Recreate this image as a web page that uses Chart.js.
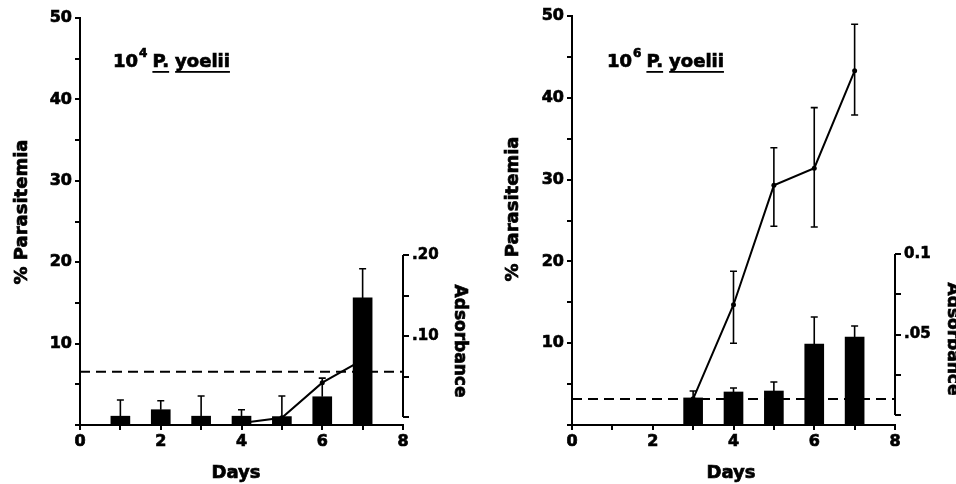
<!DOCTYPE html>
<html>
<head>
<meta charset="utf-8">
<script src="https://cdn.jsdelivr.net/npm/chart.js@4.4.0/dist/chart.umd.min.js"></script>
<style>
  html, body { margin: 0; padding: 0; background: #fff; }
  #wrap { position: relative; width: 956px; height: 484px; overflow: hidden; }
  .panel { position: absolute; top: 0; width: 478px; height: 484px; }
</style>
</head>
<body>
<div id="wrap">
  <div class="panel" style="left:0"><canvas id="lowDoseChart" width="478" height="484"></canvas></div>
  <div class="panel" style="left:478px"><canvas id="highDoseChart" width="478" height="484"></canvas></div>
</div>
<script>
'use strict';

// Days after infection
const days = [1, 2, 3, 4, 5, 6, 7];

// 10^4 P. yoelii
const lowParasitemia = [null, null, null, 0.25, 0.9, 5.2, 8.0];
const lowAbsorbance = [0.001, 0.009, 0.001, 0.001, 0.0005, 0.025, 0.147];
const lowAbsorbanceErr = [0.021, 0.020, 0.026, 0.009, 0.026, 0.048, 0.183];
const lowCutoff = 0.056;

// 10^6 P. yoelii
const highParasitemia = [null, null, 3.2, 14.7, 29.3, 31.4, 43.3];
const highParasitemiaLow = [null, null, null, 10.0, 24.3, 24.2, 37.9];
const highParasitemiaHigh = [null, null, null, 18.8, 33.9, 38.8, 49.0];
const highAbsorbance = [null, null, 0.0106, 0.0143, 0.0149, 0.0441, 0.0484];
const highAbsorbanceErr = [null, null, 0.0149, 0.0168, 0.0205, 0.0609, 0.0553];
const highCutoff = 0.010;

// Tick labels
const dayLabels = [0, 2, 4, 6, 8];
const parasitemiaLabels = [10, 20, 30, 40, 50];
const lowAbsTicks = [0, 0.05, 0.10, 0.15, 0.20];
const lowAbsLabels = ['', '', '.10', '', '.20'];
const highAbsTicks = [0, 0.025, 0.05, 0.075, 0.1];
const highAbsLabels = ['', '', '.05', '', '0.1'];

const FONT = '"DejaVu Sans", sans-serif';
const INK = '#000';

function points(values) {
  return days.map((d, i) => ({ x: d, y: values[i] })).filter(p => p.y !== null);
}

// heavy text: fill plus a thin stroke, closer to the printed figure
function heavyText(ctx, text, x, y) {
  ctx.fillText(text, x, y);
  ctx.strokeText(text, x, y);
}

// Error bars, the partial absorbance axis and the text labels
const decorPlugin = {
  id: 'decor',
  afterDatasetsDraw(chart, args, opts) {
    const ctx = chart.ctx;
    const xs = chart.scales.x;
    const ys = chart.scales.y;
    const as = chart.scales.abs;
    const cap = 3.5;
    ctx.save();
    ctx.strokeStyle = INK;
    ctx.fillStyle = INK;
    ctx.lineWidth = 1.6;

    // bar error bars (upward only)
    days.forEach((d, i) => {
      if (opts.absorbance[i] === null) return;
      const px = xs.getPixelForValue(d);
      const y0 = as.getPixelForValue(opts.absorbance[i]);
      const y1 = as.getPixelForValue(opts.absorbanceErr[i]);
      ctx.beginPath();
      ctx.moveTo(px, y0); ctx.lineTo(px, y1);
      ctx.moveTo(px - cap, y1); ctx.lineTo(px + cap, y1);
      ctx.stroke();
    });

    // parasitemia error bars
    if (opts.parasitemiaLow) {
      days.forEach((d, i) => {
        if (opts.parasitemiaLow[i] === null) return;
        const px = xs.getPixelForValue(d);
        const y0 = ys.getPixelForValue(opts.parasitemiaLow[i]);
        const y1 = ys.getPixelForValue(opts.parasitemiaHigh[i]);
        ctx.beginPath();
        ctx.moveTo(px, y0); ctx.lineTo(px, y1);
        ctx.moveTo(px - cap, y0); ctx.lineTo(px + cap, y0);
        ctx.moveTo(px - cap, y1); ctx.lineTo(px + cap, y1);
        ctx.stroke();
      });
    }

    // absorbance axis line, only over its labelled range
    const ax = chart.chartArea.right;
    ctx.lineWidth = 2;
    ctx.beginPath();
    ctx.moveTo(ax, as.getPixelForValue(opts.absTicks[0]));
    ctx.lineTo(ax, as.getPixelForValue(opts.absTicks[opts.absTicks.length - 1]));
    ctx.stroke();

    // axis titles
    ctx.lineWidth = 0.7;
    ctx.textAlign = 'center';
    ctx.textBaseline = 'middle';
    ctx.font = 'bold 18px ' + FONT;
    heavyText(ctx, 'Days', opts.daysPos[0], opts.daysPos[1]);

    ctx.save();
    ctx.translate(opts.yTitlePos[0], opts.yTitlePos[1]);
    ctx.rotate(-Math.PI / 2);
    heavyText(ctx, '% Parasitemia', 0, 0);
    ctx.restore();

    ctx.save();
    ctx.translate(opts.absTitlePos[0], opts.absTitlePos[1]);
    ctx.rotate(Math.PI / 2);
    ctx.font = 'bold 17px ' + FONT;
    heavyText(ctx, 'Adsorbance', 0, 0);
    ctx.restore();

    // panel title: 10^n P. yoelii
    let tx = opts.titlePos[0];
    const ty = opts.titlePos[1];
    ctx.textAlign = 'left';
    ctx.textBaseline = 'alphabetic';
    ctx.font = 'bold 18px ' + FONT;
    heavyText(ctx, '10', tx, ty);
    tx += ctx.measureText('10').width + 1;
    ctx.font = 'bold 12px ' + FONT;
    heavyText(ctx, opts.exponent, tx, ty - 10);
    tx += ctx.measureText(opts.exponent).width + 5;
    ctx.font = 'bold 18px ' + FONT;
    ['P.', 'yoelii'].forEach(word => {
      const w = ctx.measureText(word).width;
      heavyText(ctx, word, tx, ty);
      ctx.fillRect(tx, ty + 4, w, 1.8);
      tx += w + 6;
    });

    ctx.restore();
  }
};

function buildChart(canvasId, cfg) {
  const W = 478, H = 484;
  const area = cfg.area;
  // absorbance axis: value 0 sits at absZeroPx, top tick at absTopPx
  const absTop = cfg.absTicks[cfg.absTicks.length - 1];
  const pxPerUnit = (cfg.absZeroPx - cfg.absTopPx) / absTop;
  const absMin = -(area.bottom - cfg.absZeroPx) / pxPerUnit;
  const absMax = absMin + (area.bottom - area.top) / pxPerUnit;

  const tickFont = { family: FONT, size: 16, weight: 'bold' };

  const ctx = document.getElementById(canvasId).getContext('2d');
  return new Chart(ctx, {
    type: 'bar',
    data: {
      datasets: [
        {
          type: 'line',
          label: 'Cutoff',
          data: [{ x: 0, y: cfg.cutoff }, { x: 8, y: cfg.cutoff }],
          yAxisID: 'abs',
          borderColor: INK,
          borderWidth: 2,
          borderDash: [10, 6],
          pointRadius: 0,
          order: 0
        },
        {
          type: 'bar',
          label: 'Absorbance',
          data: points(cfg.absorbance),
          yAxisID: 'abs',
          backgroundColor: INK,
          barThickness: 19,
          base: absMin,
          order: 1
        },
        {
          type: 'line',
          label: '% Parasitemia',
          data: points(cfg.parasitemia),
          yAxisID: 'y',
          borderColor: INK,
          borderWidth: 2,
          pointRadius: 2.5,
          pointBackgroundColor: INK,
          pointBorderWidth: 0,
          tension: 0,
          order: 2
        }
      ]
    },
    options: {
      responsive: false,
      animation: false,
      layout: { padding: { top: area.top, left: 0, right: 0, bottom: 0 } },
      plugins: {
        legend: { display: false },
        tooltip: { enabled: false },
        decor: {
          absorbance: cfg.absorbance,
          absorbanceErr: cfg.absorbanceErr,
          parasitemiaLow: cfg.parasitemiaLow,
          parasitemiaHigh: cfg.parasitemiaHigh,
          absTicks: cfg.absTicks,
          exponent: cfg.exponent,
          titlePos: cfg.titlePos,
          daysPos: cfg.daysPos,
          yTitlePos: cfg.yTitlePos,
          absTitlePos: cfg.absTitlePos
        }
      },
      scales: {
        x: {
          type: 'linear',
          min: 0,
          max: 8,
          offset: false,
          afterFit: s => { s.height = H - area.bottom; },
          ticks: {
            stepSize: 1,
            autoSkip: false,
            maxRotation: 0,
            padding: 2,
            color: INK,
            font: tickFont,
            textStrokeColor: INK,
            textStrokeWidth: 0.7,
            callback: v => dayLabels.includes(v) ? String(v) : ''
          },
          grid: { offset: false, drawOnChartArea: false, drawTicks: true, tickLength: 5, color: INK, lineWidth: 2 },
          border: { display: true, color: INK, width: 2 }
        },
        y: {
          position: 'left',
          min: 0,
          max: 50,
          afterFit: s => { s.width = area.left; },
          ticks: {
            stepSize: 5,
            autoSkip: false,
            padding: 3,
            color: INK,
            font: tickFont,
            textStrokeColor: INK,
            textStrokeWidth: 0.7,
            callback: v => parasitemiaLabels.includes(v) ? String(v) : ''
          },
          grid: { drawOnChartArea: false, drawTicks: true, tickLength: 5, color: INK, lineWidth: 2 },
          border: { display: true, color: INK, width: 2 }
        },
        abs: {
          position: 'right',
          min: absMin,
          max: absMax,
          afterFit: s => { s.width = W - area.right; },
          afterBuildTicks: s => { s.ticks = cfg.absTicks.map(v => ({ value: v })); },
          ticks: {
            autoSkip: false,
            padding: 3,
            color: INK,
            font: { family: FONT, size: 15, weight: 'bold' },
            textStrokeColor: INK,
            textStrokeWidth: 0.6,
            callback: (v, i) => cfg.absLabels[i]
          },
          grid: { drawOnChartArea: false, drawTicks: true, tickLength: 6, color: INK, lineWidth: 2 },
          border: { display: false }
        }
      }
    },
    plugins: [decorPlugin]
  });
}

buildChart('lowDoseChart', {
  area: { left: 80, right: 403, top: 18, bottom: 425 },
  absZeroPx: 417,
  absTopPx: 255,
  absTicks: lowAbsTicks,
  absLabels: lowAbsLabels,
  parasitemia: lowParasitemia,
  parasitemiaLow: null,
  parasitemiaHigh: null,
  absorbance: lowAbsorbance,
  absorbanceErr: lowAbsorbanceErr,
  cutoff: lowCutoff,
  exponent: '4',
  titlePos: [113, 67],
  daysPos: [236, 473],
  yTitlePos: [22, 212],
  absTitlePos: [459, 341]
});

buildChart('highDoseChart', {
  area: { left: 94, right: 417, top: 16, bottom: 425 },
  absZeroPx: 415,
  absTopPx: 254,
  absTicks: highAbsTicks,
  absLabels: highAbsLabels,
  parasitemia: highParasitemia,
  parasitemiaLow: highParasitemiaLow,
  parasitemiaHigh: highParasitemiaHigh,
  absorbance: highAbsorbance,
  absorbanceErr: highAbsorbanceErr,
  cutoff: highCutoff,
  exponent: '6',
  titlePos: [129, 67],
  daysPos: [253, 473],
  yTitlePos: [35, 209],
  absTitlePos: [474, 339]
});
</script>
</body>
</html>
